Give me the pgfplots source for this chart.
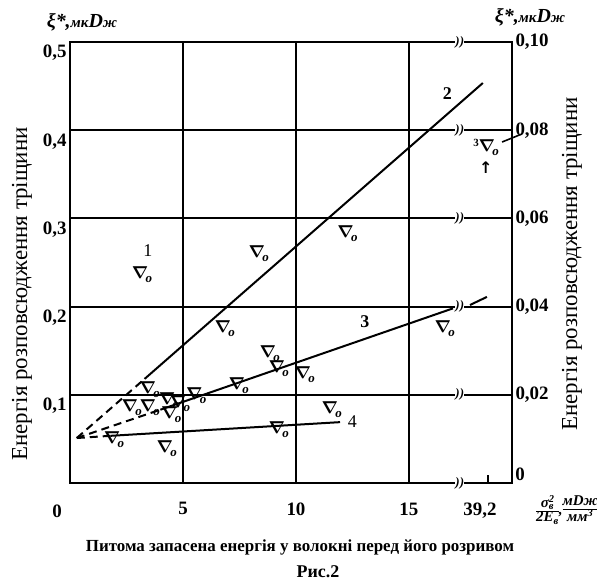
\documentclass[border=0pt]{standalone}
\usepackage{pgfplots}
\pgfplotsset{compat=1.18}
\usepackage{fontspec}
\setmainfont{Liberation Serif}
\newfontfamily\dejavu{DejaVu Sans}

\newcommand{\tickfont}{\bfseries\fontsize{19}{19}\selectfont}
\DeclareRobustCommand{\nab}{\makebox[0pt]{\fontsize{17}{17}\selectfont\boldmath$\nabla$}\rlap{\hspace{5.5bp}\smash{\raisebox{-4bp}{\fontsize{13}{13}\selectfont\bfseries\itshape o}}}}
\DeclareRobustCommand{\nabthree}{\llap{\raisebox{5bp}{\fontsize{11}{11}\selectfont\bfseries 3}\hspace{8bp}}\nab}
\DeclareRobustCommand{\xilab}{{\fontsize{20}{20}\selectfont\bfseries\itshape ξ*,}{\fontsize{15}{15}\selectfont\bfseries\itshape мк}{\fontsize{20}{20}\selectfont\bfseries\itshape D}{\fontsize{15}{15}\selectfont\bfseries\itshape ж}}
\DeclareRobustCommand{\brksym}{\fontsize{13}{13}\selectfont\bfseries\itshape ))}

\begin{document}
\begin{tikzpicture}
\begin{axis}[
  name=main,
  scale only axis,
  width=442bp, height=441bp,
  xmin=0, xmax=19.56, ymin=0, ymax=0.5,
  axis line style={line width=2.6bp},
  xtick={5,10,15},
  xticklabels={5,10,15},
  xticklabel style={yshift=-16bp},
  extra x ticks={0}, extra x tick labels={},
  ytick={0.1,0.2,0.3,0.4,0.5},
  yticklabels={{0,1},{0,2},{0,3},{0,4},{0,5}},
  yticklabel style={yshift=-11bp},
  xmajorgrids, ymajorgrids,
  major grid style={line width=2bp, black},
  major tick length=0pt,
  ticklabel style={font=\tickfont},
  clip=false,
]
% curve 2
\addplot[line width=2bp, dash pattern=on 8bp off 5bp] coordinates {(0.3,0.051)(3.3,0.118)};
\addplot[line width=2bp] coordinates {(3.3,0.118)(18.27,0.4535)};
% curve 3
\addplot[line width=2bp, dash pattern=on 8bp off 5bp] coordinates {(0.3,0.051)(4.0,0.0831)};
\addplot[line width=2bp] coordinates {(4.0,0.0831)(16.95,0.198)};
\addplot[line width=2bp] coordinates {(17.7,0.2018)(18.45,0.211)};
% curve 4
\addplot[line width=2bp, dash pattern=on 8bp off 5bp] coordinates {(0.3,0.051)(1.8,0.0535)};
\addplot[line width=2bp] coordinates {(1.8,0.0535)(11.95,0.069)};

% experimental points
\addplot[only marks, mark=text, text mark={\nab}, text mark as node=true,
  text mark style={anchor=center, inner sep=0pt}] coordinates {
  (3.1,0.239)(8.27,0.262)(6.77,0.177)(8.76,0.149)(9.16,0.132)(10.3,0.125)
  (7.39,0.113)(3.45,0.108)(2.65,0.088)(3.45,0.088)(4.3,0.096)(4.78,0.092)
  (4.4,0.080)(5.5,0.101)(11.5,0.085)(9.16,0.063)(1.86,0.052)(4.2,0.041)
  (12.2,0.285)(16.5,0.177)
};
\addplot[only marks, mark=text, text mark={\nabthree}, text mark as node=true,
  text mark style={anchor=center, inner sep=0pt}] coordinates {(18.45,0.383)};
\addplot[line width=1.6bp] coordinates {(19.12,0.3866)(20.0,0.3957)};
\node[font=\dejavu\bfseries\fontsize{16}{16}\selectfont] at (axis cs:18.4,0.358) {↑};

% curve numbers
\node[font=\fontsize{18}{18}\selectfont] at (axis cs:3.45,0.264) {1};
\node[font=\fontsize{18}{18}\selectfont\bfseries] at (axis cs:16.7,0.442) {2};
\node[font=\fontsize{18}{18}\selectfont\bfseries] at (axis cs:13.05,0.1825) {3};
\node[font=\fontsize{18}{18}\selectfont] at (axis cs:12.5,0.070) {4};

% scale breaks
\node[fill=white, inner sep=0.3bp] at (axis cs:17.25,0) {\brksym};
\node[fill=white, inner sep=0.3bp] at (axis cs:17.25,0.1) {\brksym};
\node[fill=white, inner sep=0.3bp] at (axis cs:17.25,0.2) {\brksym};
\node[fill=white, inner sep=0.3bp] at (axis cs:17.25,0.3) {\brksym};
\node[fill=white, inner sep=0.3bp] at (axis cs:17.25,0.4) {\brksym};
\node[fill=white, inner sep=0.3bp] at (axis cs:17.25,0.5) {\brksym};
\addplot[line width=1.5bp] coordinates {(18.49,0)(18.49,0.009)};
\end{axis}
\begin{axis}[
  scale only axis,
  width=442bp, height=441bp,
  xmin=0, xmax=19.56, ymin=0, ymax=0.1,
  axis x line=none, axis y line*=right,
  axis line style={line width=2.6bp},
  ytick={0.02,0.04,0.06,0.08,0.10},
  yticklabels={{0,02},{0,04},{0,06},{0,08},{0,10}},
  major tick length=0pt,
  ticklabel style={font=\tickfont},
]
\end{axis}
% labels around the axis (offsets in bp from the lower left corner of the axis box)
\path (main.south west) ++(-13bp,-28bp) node[font=\tickfont] {0};
\path (main.south west) ++(410bp,-28bp) node[font=\tickfont] {39,2};
\path (main.south west) ++(450bp,9bp) node[font=\tickfont] {0};
\path (main.south west) ++(-48bp,189bp) node[rotate=90, font=\fontsize{23}{23}\selectfont] {Енергія розповсюдження тріщини};
\path (main.south west) ++(502bp,219bp) node[rotate=90, font=\fontsize{23}{23}\selectfont] {Енергія розповсюдження тріщини};
\path (main.south west) ++(12bp,461bp) node {\xilab};
\path (main.south west) ++(460bp,466bp) node {\xilab};
\path (main.south west) ++(230bp,-64bp) node[font=\fontsize{17}{17}\selectfont\bfseries] {Питома запасена енергія у волокні перед його розривом};
\path (main.south west) ++(248bp,-89bp) node[font=\fontsize{18}{18}\selectfont\bfseries] {Рис.2};
\path (main.south west) ++(497bp,-28bp) node[inner sep=0pt, font=\bfseries\itshape\fontsize{15}{15}\selectfont] {%
  \begin{tabular}{@{}c@{}}σ\rlap{\textsuperscript{2}}\textsubscript{в}\\[-1bp]\hline 2E\textsubscript{в}\end{tabular},%
  \begin{tabular}{@{}c@{}}мDж\\[-1bp]\hline мм\textsuperscript{3}\end{tabular}};
\pgfresetboundingbox
\path[use as bounding box] (main.south west) ++(-70bp,-99bp) rectangle ++(597bp,582bp);
\end{tikzpicture}
\end{document}
